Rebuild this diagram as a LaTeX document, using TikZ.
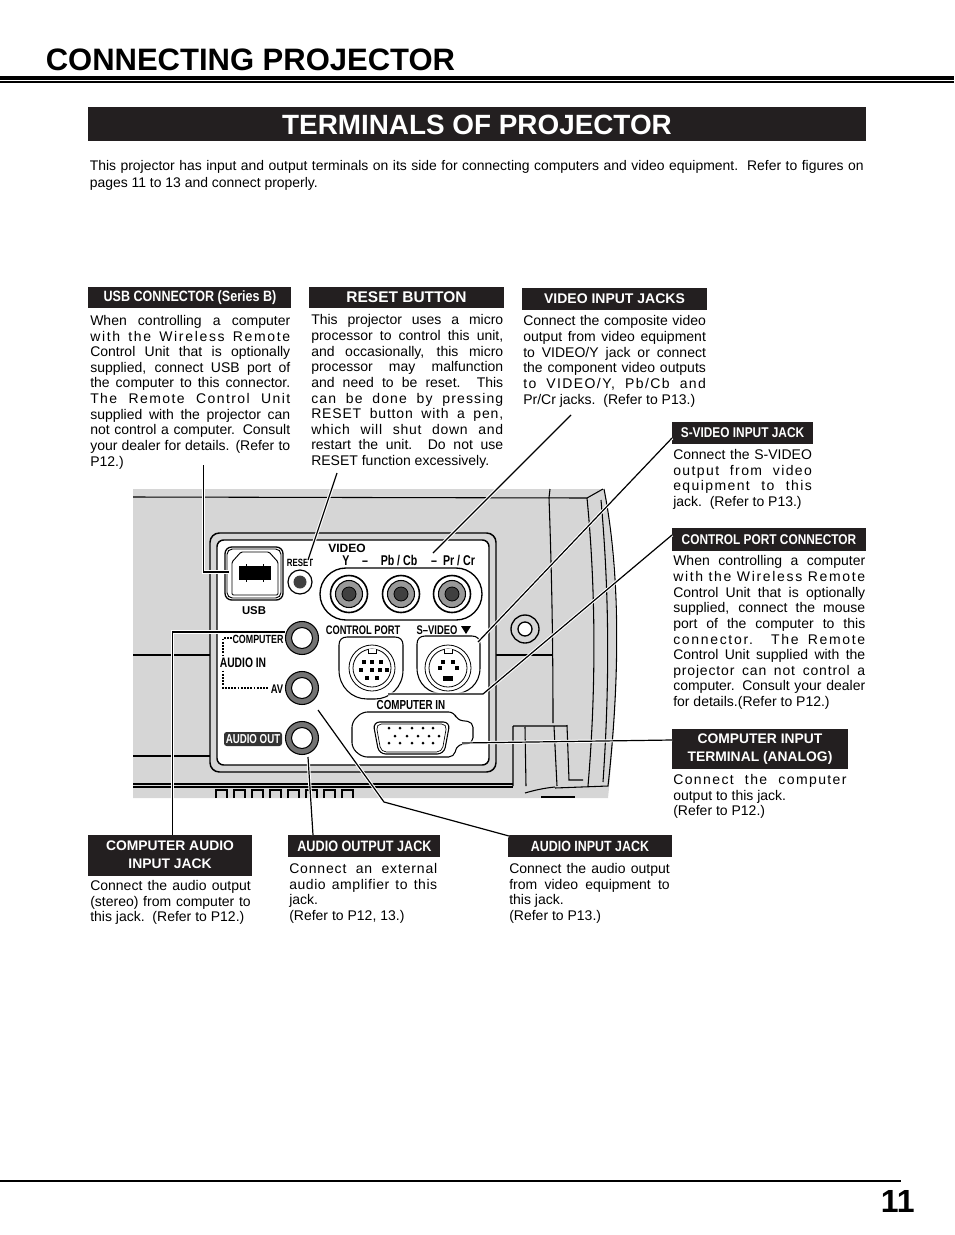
\documentclass[tikz,border=0pt]{standalone}
\usepackage{fontspec}
\setmainfont{Liberation Sans}
\newfontfamily\narrowfont[FakeStretch=0.84]{Liberation Sans}
\newfontfamily\panelfamily[FakeStretch=0.75]{Liberation Sans}
\newcommand{\wide}[2]{{\addfontfeature{LetterSpace=#1}#2}}
\definecolor{barblack}{HTML}{231F20}
\usetikzlibrary{positioning}
\tikzset{
  bartext/.style={text=white, font=\narrowfont\bfseries\fontsize{#1}{13}\selectfont, align=center, inner sep=0pt},
  bartext/.default=10.6,
  barwide/.style={text=white, font=\bfseries\fontsize{#1}{13.4}\selectfont, align=center, inner sep=0pt},
  body/.style={anchor=north west, inner sep=0pt, align=justify, font=\fontsize{10.5}{11.72}\selectfont},
  panel/.style={font=\panelfamily\bfseries\fontsize{#1}{#1}\selectfont, inner sep=0pt},
  leader/.style={black, line width=0.9pt, preaction={draw=white, line width=2.4pt}},
  outline/.style={black, line width=0.8pt},
  ring/.style={fill=white, draw=black, line width=0.9pt}
}
\begin{document}
\begin{tikzpicture}[x=0.75pt, y=-0.75pt]
  \useasboundingbox (0,0) rectangle (954,1235);

  % Page heading
  \node[anchor=base west, inner sep=0pt, font=\bfseries\fontsize{23.25}{28}\selectfont] (title) at (45.5,70) {CONNECTING PROJECTOR};
  \draw[black, line width=3pt] (0,78) -- (954,78);
  \draw[black, line width=0.8pt] (0,82) -- (954,82);
  \fill[barblack] (88,106.5) rectangle (866,141);
  \node[text=white, inner sep=0pt, font=\bfseries\fontsize{20.9}{24}\selectfont] (subtitle) at (477,124.5) {TERMINALS OF PROJECTOR};
  \node[body, text width=580.5pt, font=\fontsize{10.45}{12.7}\selectfont] (intro) at (89.5,160) {This projector has input and output terminals on its side for connecting computers and video equipment.\ \ Refer to figures on\linebreak pages 11 to 13 and connect properly.};

  % Page number
  \draw[black, line width=1pt] (0,1181) -- (901,1181);
  \node[anchor=base east, inner sep=0pt, font=\bfseries\fontsize{24}{28}\selectfont] (pagenum) at (915,1212) {11};

  % Projector body
  \fill[black!16] (133,489) -- (604,489) .. controls (616,560) and (622,660) .. (608,798) -- (133,798) -- cycle;
  \draw[outline] (133,497) -- (587,498) -- (603,489);
  \draw[outline] (133,655) -- (210,655);
  \draw[outline] (133,756) -- (210,756);
  \draw[outline] (133,784) -- (513,784);
  \draw[outline] (133,787) -- (513,787);
  \draw[outline] (550,489) -- (549,498) .. controls (552,580) and (553,650) .. (553,723);
  \draw[outline] (587,498) .. controls (595,580) and (597,680) .. (588,786);
  \draw[outline] (604,489) .. controls (618,560) and (622,660) .. (608,786) -- (555,788);
  \draw[outline] (601,500) .. controls (609,590) and (610,680) .. (603,782);
  \draw[outline] (496,655) -- (553,655);
  \draw[outline] (513,726) -- (567,726) (513,726) -- (513,786) (525,727) -- (526,786) (554,726) -- (557,786) (567,725) -- (569,780) -- (583,780);
  \draw[outline] (525,793) .. controls (535,790) and (545,788) .. (555,787);
  \draw[outline] (542,798) -- (542,797) -- (575,797);
  \foreach \gx in {216,234,252,270,288,306,324,342} {
    \draw[outline] (\gx,798) -- (\gx,790) -- (\gx+11,790) -- (\gx+11,798);
  }

  % Terminal panel
  \draw[black, line width=1.1pt, fill=black!16, rounded corners=7pt] (210,533) rectangle (496,772);
  \draw[black, line width=1.1pt, fill=white, rounded corners=5pt] (217,540) rectangle (489,765);

  % USB port
  \draw[black, line width=1pt, rounded corners=5pt] (225,547) rectangle (283,600);
  \draw[black, line width=0.7pt, rounded corners=4pt] (227,549) rectangle (281,598);
  \draw[black, line width=0.7pt, rounded corners=1pt] (232,595) -- (232,562) -- (241,552) -- (269,552) -- (278,562) -- (278,595) -- cycle;
  \fill[black] (239,566) rectangle (271,580);
  \draw[black, line width=0.6pt] (246,564) -- (246,582) (263,564) -- (263,582);
  \coordinate (usbport) at (229,572);
  \node[inner sep=0pt, font=\bfseries\fontsize{8.5}{10}\selectfont] (usblabel) at (254,611) {USB};

  % Reset button
  \draw[ring] (300,582) circle (12);
  \fill[black!75] (300,582) circle (6.5);
  \coordinate (resetport) at (308,560);
  \node[panel=7.9] (resetlabel) at (300,563) {RESET};

  % Video jacks
  \draw[black, line width=1pt, fill=white, rounded corners=19.5pt] (320,568) rectangle (482,620);
  \foreach \jx/\jname in {349/yjack,401/pbjack,452/prjack} {
    \draw[ring, line width=1.2pt] (\jx,594) circle (18.5);
    \draw[black, fill=black!40, line width=0.8pt] (\jx,594) circle (13.5);
    \draw[black, fill=black!75, line width=0.6pt] (\jx,594) circle (7);
    \coordinate (\jname) at (\jx,594);
  }
  \coordinate (videoport) at (433,553);
  \node[inner sep=0pt, font=\bfseries\fontsize{9}{10}\selectfont] (videolabel) at (347,548) {VIDEO};
  \node[panel=10.6, anchor=base] (ylabel) at (346,565) {Y};
  \node[panel=10.6, anchor=base] (dashone) at (365,565) {–};
  \node[panel=10.6, anchor=base] (pblabel) at (399,565) {Pb / Cb};
  \node[panel=10.6, anchor=base] (dashtwo) at (434,565) {–};
  \node[panel=10.6, anchor=base] (prlabel) at (459,565) {Pr / Cr};

  % Audio jacks
  \foreach \ay/\aname in {638/compjack,688/avjack,738/outjack} {
    \draw[black, fill=black!55, line width=0.8pt] (302,\ay) circle (16.5);
    \draw[black, fill=white, line width=0.8pt] (302,\ay) circle (10.5);
    \coordinate (\aname) at (302,\ay);
  }
  \coordinate (compport) at (285,632);
  \coordinate (avport) at (318,710);
  \coordinate (outport) at (308,757);
  \draw[black, line width=1.7pt, dash pattern=on 1.4pt off 1pt] (232,638) -- (223,638) -- (223,688) -- (268,688);
  \node[panel=10.3, fill=white, inner sep=1pt] (audioin) at (243,663) {AUDIO IN};
  \node[panel=8.9] (computerlabel) at (258,639) {COMPUTER};
  \node[panel=9.4] (avlabel) at (277,689) {AV};
  \fill[black!80, rounded corners=2pt] (224,732) rectangle (282,746);
  \node[panel=9.7, text=white] (audiooutlabel) at (253,739) {AUDIO OUT};

  % Control port
  \draw[black, line width=0.8pt] (347,637) -- (395,637) .. controls (400,637) and (403,640) .. (403,645) -- (403,670) .. controls (403,687) and (390,699) .. (375,699) -- (367,699) .. controls (352,699) and (339,687) .. (339,670) -- (339,645) .. controls (339,640) and (342,637) .. (347,637) -- cycle;
  \draw[black, fill=white, line width=0.6pt] (372,668) circle (23);
  \draw[black, fill=white, line width=0.6pt] (372,668) circle (19);
  \draw[black, fill=white, line width=0.6pt] (368,649) -- (368,653) -- (376,653) -- (376,649);
  \foreach \px/\py in {364/662, 372/662, 381/662, 361/670, 372/670, 380/670, 387/670, 367/678, 377/678} {
    \fill[black] (\px-1.7,\py-1.7) rectangle (\px+1.7,\py+1.7);
  }
  \node[panel=9.3] (controllabel) at (363,630) {CONTROL PORT};

  % S-video port
  \draw[black, line width=0.8pt] (425,636) -- (472,636) .. controls (477,636) and (480,639) .. (480,644) -- (480,668) .. controls (480,684) and (468,694) .. (453,694) -- (444,694) .. controls (429,694) and (417,684) .. (417,668) -- (417,644) .. controls (417,639) and (420,636) .. (425,636) -- cycle;
  \draw[black, fill=white, line width=0.6pt] (448,668) circle (23);
  \draw[black, fill=white, line width=0.6pt] (448,668) circle (19);
  \draw[black, fill=white, line width=0.6pt] (444,649) -- (444,653) -- (452,653) -- (452,649);
  \foreach \px/\py in {443/662, 453/662, 440/668, 457/668} {
    \fill[black] (\px-1.8,\py-1.8) rectangle (\px+1.8,\py+1.8);
  }
  \fill[black] (443,676) rectangle (453,681);
  \coordinate (svideoport) at (478,642);
  \node[panel=9.4] (svideolabel) at (437,630) {S–VIDEO};
  \fill[black] (461,626) -- (471,626) -- (466,634) -- cycle;

  % Computer input
  \draw[black, line width=0.8pt, rounded corners=4pt] (362,712) -- (454,712) -- (457,720) -- (473,722) -- (473,743) -- (457,745) -- (454,757) -- (362,757) -- (352,748) -- (352,722) -- cycle;
  \draw[black, fill=white, line width=0.8pt, rounded corners=5pt] (373,722) -- (450,722) -- (444,754) -- (379,754) -- cycle;
  \draw[black, line width=0.5pt, rounded corners=4pt] (376,724) -- (447,724) -- (442,752) -- (381,752) -- cycle;
  \foreach \px in {389,400,412,423,433} {
    \fill[black] (\px,728) circle (1.5);
    \fill[black] (\px,743) circle (1.5);
  }
  \foreach \px in {395,407,418,429,439} {
    \fill[black] (\px,736) circle (1.5);
  }
  \coordinate (vgaport) at (462,743);
  \node[panel=9.8] (compinlabel) at (411,705) {COMPUTER IN};

  % Screw
  \draw[black, line width=1pt, fill=black!16] (525,629) circle (14);
  \draw[black, line width=1pt, fill=white] (525,629) circle (7);

  % Heading bars
  \fill[barblack] (88,287) rectangle (291,308);
  \node[bartext=11.2] (usbhead) at (190,298) {USB CONNECTOR (Series B)};
  \fill[barblack] (309,287) rectangle (504,308);
  \node[barwide=11.6] (resethead) at (406.5,297.5) {RESET BUTTON};
  \fill[barblack] (522,288) rectangle (707,310);
  \node[barwide=10.5] (videohead) at (614.5,299) {VIDEO INPUT JACKS};
  \fill[barblack] (672,422) rectangle (813,444);
  \node[bartext] (svideohead) at (742.5,433) {S-VIDEO INPUT JACK};
  \fill[barblack] (672,528) rectangle (866,551);
  \node[bartext] (controlhead) at (769,540) {CONTROL PORT CONNECTOR};
  \fill[barblack] (672,729) rectangle (848,769);
  \node[barwide=10.4] (vgahead) at (760,749) {COMPUTER INPUT\\TERMINAL (ANALOG)};
  \fill[barblack] (88,835) rectangle (252,876);
  \node[barwide=10.4] (comphead) at (170,855) {COMPUTER AUDIO\\INPUT JACK};
  \fill[barblack] (288,835) rectangle (440,857);
  \node[bartext=11.3] (outhead) at (364.5,846) {AUDIO OUTPUT JACK};
  \fill[barblack] (508,835) rectangle (672,857);
  \node[bartext=11.1] (avhead) at (590,846) {AUDIO INPUT JACK};

  % Body texts
  \node[body, text width=150pt] (usbtext) at (90,315) {When controlling a computer\linebreak \wide{12}{with the Wireless Remote}\linebreak Control Unit that is optionally\linebreak supplied, connect USB port of\linebreak the computer to this connector.\linebreak \wide{10}{The Remote Control Unit}\linebreak supplied with the projector can\linebreak not control a computer. Consult\linebreak your dealer for details. (Refer to\linebreak P12.)};
  \node[body, text width=144pt] (resettext) at (311,314.5) {This projector uses a micro\linebreak processor to control this unit,\linebreak and occasionally, this micro\linebreak processor may malfunction\linebreak and need to be reset.\ \ This\linebreak \wide{8}{can be done by pressing}\linebreak \wide{6}{RESET button with a pen,}\linebreak \wide{5}{which will shut down and}\linebreak restart the unit.\ \ Do not use\linebreak RESET function excessively.};
  \node[body, text width=137pt] (videotext) at (523,315.5) {Connect the composite video\linebreak output from video equipment\linebreak to VIDEO/Y jack or connect\linebreak the component video outputs\linebreak \wide{10}{to VIDEO/Y, Pb/Cb and}\linebreak Pr/Cr jacks.\ \ (Refer to P13.)};
  \node[body, text width=104pt] (svideotext) at (673,449) {Connect\ the\ S-VIDEO\linebreak \wide{10}{output from video}\linebreak \wide{10}{equipment to this}\linebreak jack.\ \ (Refer to P13.)};
  \node[body, text width=144pt] (controltext) at (673,555.5) {When controlling a computer\linebreak \wide{12}{with the Wireless Remote}\linebreak Control Unit that is optionally\linebreak supplied, connect the mouse\linebreak port of the computer to this\linebreak \wide{12}{connector.\ \ The Remote}\linebreak Control Unit supplied with the\linebreak \wide{6}{projector can not control a}\linebreak computer. Consult your dealer\linebreak for details.(Refer to P12.)};
  \node[body, text width=130pt] (vgatext) at (673,774) {\wide{10}{Connect the computer}\linebreak output to this jack.\newline (Refer to P12.)};
  \node[body, text width=120.4pt] (comptext) at (90,880) {Connect the audio output\linebreak (stereo) from computer to\linebreak this jack.\ \ (Refer to P12.)};
  \node[body, text width=111pt] (outtext) at (289,863) {\wide{6}{Connect an external}\linebreak \wide{4}{audio amplifier to this}\linebreak jack.\newline (Refer to P12, 13.)};
  \node[body, text width=120.4pt] (avtext) at (509,863) {Connect the audio output\linebreak from video equipment to\linebreak this jack.\newline (Refer to P13.)};

  % Connector ends at the text blocks
  \coordinate (usbend) at (203.5,465);
  \coordinate (usbbend) at (203.5,572);
  \coordinate (resetend) at (337,473);
  \coordinate (videoend) at (571,415);
  \coordinate (svideoend) at (672,438);
  \coordinate (controlend) at (672,535);
  \coordinate (controlbend) at (483,694);
  \coordinate (controltip) at (388,694);
  \coordinate (vgaend) at (672,740);
  \coordinate (compend) at (172.5,835);
  \coordinate (compbend) at (172.5,632);
  \coordinate (outend) at (313,835);
  \coordinate (avend) at (509,836);
  \coordinate (avbend) at (384,802);

  % Connectors
  \draw[leader] (usbend) -- (usbbend) -- (usbport);
  \draw[leader] (resetend) -- (resetport);
  \draw[leader] (videoend) -- (videoport);
  \draw[leader] (svideoend) -- (svideoport);
  \draw[leader] (controlend) -- (controlbend) -- (controltip);
  \draw[leader] (vgaend) -- (vgaport);
  \draw[leader] (compend) -- (compbend) -- (compport);
  \draw[leader] (outend) -- (outport);
  \draw[leader] (avend) -- (avbend) -- (avport);
\end{tikzpicture}
\end{document}
